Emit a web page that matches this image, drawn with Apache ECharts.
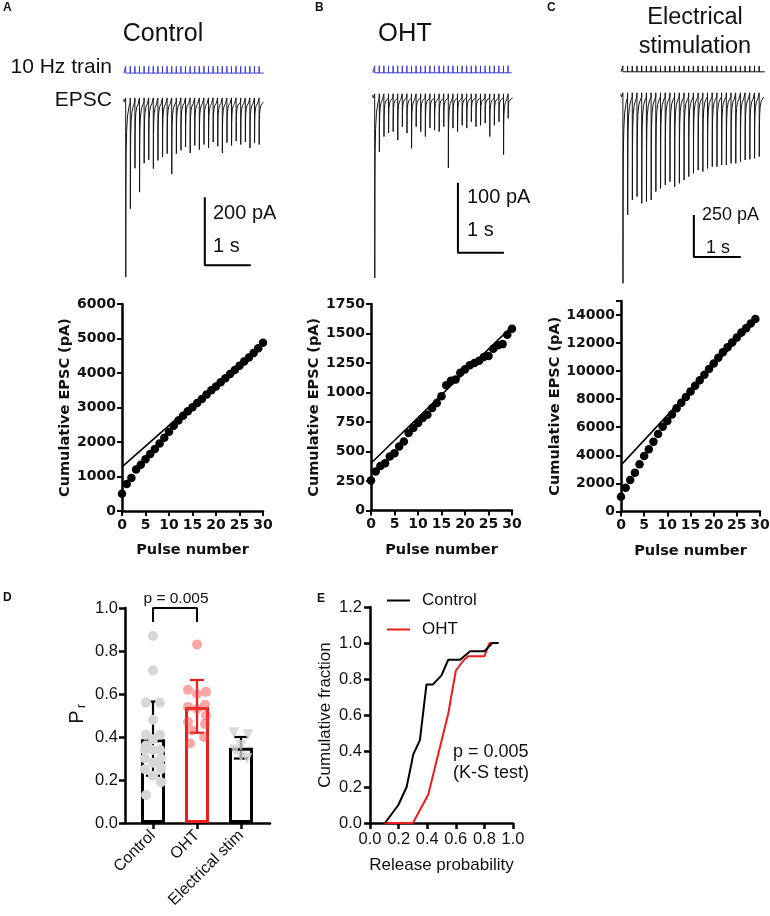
<!DOCTYPE html>
<html><head><meta charset="utf-8">
<script src="https://cdn.jsdelivr.net/npm/echarts@6/dist/echarts.min.js"></script>
<style>html,body{margin:0;padding:0;background:#fff}#c{width:770px;height:916px}</style>
</head><body><div id="c"></div>
<script>
// ---------------- DATA ----------------
// EPSC peak amplitudes (pA) for each of the 30 pulses of the 10 Hz train
const pulseAmpA = [515, 314, 195, 265, 180, 170, 196, 172, 162, 152, 212, 152, 142, 132, 150, 128, 140, 125, 135, 118, 130, 150, 120, 128, 115, 125, 118, 135, 120, 125];
const pulseAmpB = [257, 77, 55, 50, 48, 60, 41, 50, 72, 41, 48, 55, 43, 46, 48, 41, 100, 43, 48, 39, 43, 34, 41, 39, 36, 55, 39, 34, 81, 29];
const pulseAmpC = [1109, 702, 613, 593, 633, 623, 613, 563, 544, 524, 504, 534, 514, 494, 474, 454, 435, 444, 425, 415, 415, 405, 405, 395, 395, 385, 375, 371, 365, 355];
const pulsePeriodMs = 100;            // 10 Hz
const scaleBarPA = [200, 100, 250];   // vertical scale bars (pA)
const scaleBarS = [1, 1, 1];          // horizontal scale bars (s)

// Cumulative EPSC vs pulse number
const pulsesAB = [0,1,2,3,4,5,6,7,8,9,10,11,12,13,14,15,16,17,18,19,20,21,22,23,24,25,26,27,28,29,30];
const pulsesC = [0,1,2,3,4,5,6,7,8,9,10,11,12,13,14,15,16,17,18,19,20,21,22,23,24,25,26,27,28,29];
const cumA = [500, 780, 960, 1200, 1340, 1500, 1650, 1800, 1960, 2120, 2300, 2470, 2620, 2760, 2890, 3010, 3130, 3250, 3380, 3500, 3610, 3730, 3850, 3970, 4090, 4210, 4330, 4450, 4580, 4720, 4880];
const cumB = [255, 330, 378, 400, 457, 486, 543, 585, 656, 699, 741, 784, 812, 869, 912, 969, 1062, 1100, 1111, 1168, 1196, 1230, 1250, 1270, 1300, 1310, 1370, 1400, 1410, 1490, 1540];
const cumC = [1050, 1690, 2240, 2760, 3360, 3950, 4430, 4970, 5520, 6040, 6440, 6900, 7350, 7750, 8150, 8550, 8950, 9350, 9750, 10150, 10550, 10950, 11350, 11700, 12050, 12400, 12750, 13050, 13400, 13720];
const fitA = [[0, 1280], [30, 4880]];
const fitB = [[0, 400], [30, 1560]];
const fitC = [[0, 3300], [29, 13600]];

// Panel D: release probability
const dCategories = ['Control', 'OHT', 'Electrical stim'];
const dMeans = [0.39, 0.54, 0.35];
const dErrLo = [0.22, 0.42, 0.30];
const dErrHi = [0.565, 0.665, 0.40];
const ctrlPr = [0.87, 0.71, 0.56, 0.56, 0.48, 0.41, 0.41, 0.39, 0.36, 0.34, 0.34, 0.34, 0.30, 0.30, 0.28, 0.26, 0.25, 0.25, 0.22, 0.19, 0.13];
const ohtPr = [0.83, 0.62, 0.61, 0.60, 0.55, 0.54, 0.53, 0.50, 0.47, 0.46, 0.43, 0.40, 0.37];
const elecPr = [0.42, 0.41, 0.36, 0.34, 0.31, 0.30];
const dPText = 'p = 0.005';

// Panel E: cumulative distributions
const ecdfCtrl = [[0.105,0],[0.198,0.10],[0.256,0.20],[0.29,0.33],[0.302,0.38],[0.349,0.46],[0.395,0.77],[0.44,0.77],[0.50,0.82],[0.547,0.907],[0.63,0.907],[0.70,0.954],[0.80,0.954],[0.856,1.0],[0.90,1.0]];
const ecdfOht = [[0.10,0],[0.30,0],[0.407,0.157],[0.547,0.607],[0.60,0.846],[0.65,0.90],[0.686,0.926],[0.80,0.926],[0.835,1.0],[0.86,1.0]];

// ---------------- STYLE / LAYOUT ----------------
const FONT = '"Liberation Sans", Arial, Helvetica, sans-serif';
const BFONT = '"DejaVu Sans", "Liberation Sans", sans-serif';
const INK = '#111';
const RED = '#ee1c1c';
const STIM_BLUE = '#3a3ad8';
// jitter of the dots in panel D (pixels)
const ctrlJit = [0, 0, -7, 7, 0, -7, 7, 0, -7, 7, 0, -8, 8, -8, 0, 8, -8, 8, 0, 8, -7];
const ohtJit = [0, -9, 9, 0, 8, -9, 0, 9, -9, 8, -5, 7, -7];
const elecJit = [-7, 7, 0, -6, 0, 6];

// trace panel layout: px per ms / px per pA
const traceCfg = [
  {left: 122, pxMs: 0.046, xMax: 3200, base: 102, pxPA: 0.34, yMin: -540, yMax: 110, t0: 80, lvl: 85, h: 20, tEnd: 3080, sbT: 1800, sbY: -480, color: STIM_BLUE},
  {left: 371, pxMs: 0.046, xMax: 3200, base: 98, pxPA: 0.70, yMin: -270, yMax: 50, t0: 80, lvl: 36, h: 10, tEnd: 3060, sbT: 1890, sbY: -221, color: STIM_BLUE},
  {left: 621, pxMs: 0.047, xMax: 3200, base: 97, pxPA: 0.168, yMin: -1150, yMax: 200, t0: 40, lvl: 150, h: 35, tEnd: 3060, sbT: 1550, sbY: -952, color: '#111'}
];
const pulseAmps = [pulseAmpA, pulseAmpB, pulseAmpC];
const artifactPA = [12, 6, 25];

// EPSC waveform (fraction of peak vs ms after stimulus)
const epscShape = [[2,1],[5,0.5],[10,0.3],[20,0.17],[40,0.08],[70,0.03]];
function buildTrace(amps, t0, period, art) {
  const pts = [[t0 - 45, art * 0.7], [t0 - 35, art * 0.7], [t0 - 30, 0]];
  amps.forEach((a, k) => {
    const t = t0 + k * period;
    pts.push([t - 1, 0], [t, art]);
    epscShape.forEach(([dt, f]) => pts.push([t + dt, -a * f]));
  });
  pts.push([t0 + amps.length * period - 2, 0]);
  return pts;
}
function buildTrain(n, t0, period, tEnd, lvl, h) {
  const pts = [[t0 - 40, lvl]];
  for (let k = 0; k < n; k++) {
    const t = t0 + k * period;
    pts.push([t, lvl], [t, lvl + h], [t, lvl]);
  }
  pts.push([tEnd, lvl]);
  return pts;
}

const grids = [], xAxes = [], yAxes = [], series = [];
const hidden = (gi, min, max) => ({gridIndex: gi, type: 'value', min, max, show: false, splitLine: {show: false}});

traceCfg.forEach((c, i) => {
  grids.push({left: c.left, top: c.base - c.yMax * c.pxPA, width: c.xMax * c.pxMs, height: (c.yMax - c.yMin) * c.pxPA, outerBoundsMode: 'none'});
  xAxes.push(hidden(i, 0, c.xMax));
  yAxes.push(hidden(i, c.yMin, c.yMax));
  series.push({type: 'line', xAxisIndex: i, yAxisIndex: i, data: buildTrace(pulseAmps[i], c.t0, pulsePeriodMs, artifactPA[i]),
    showSymbol: false, symbol: 'none', lineStyle: {color: '#151515', width: 1}, clip: false, z: 3});
  series.push({type: 'line', xAxisIndex: i, yAxisIndex: i, data: buildTrain(pulseAmps[i].length, c.t0, pulsePeriodMs, c.tEnd, c.lvl, c.h),
    showSymbol: false, symbol: 'none', lineStyle: {color: c.color, width: 1}, clip: false, z: 3});
  // scale bar: vertical (pA) + horizontal (s)
  series.push({type: 'line', xAxisIndex: i, yAxisIndex: i,
    data: [[c.sbT, c.sbY + scaleBarPA[i]], [c.sbT, c.sbY], [c.sbT + scaleBarS[i] * 1000, c.sbY]],
    showSymbol: false, symbol: 'none', lineStyle: {color: '#000', width: 2}, clip: false, z: 3});
});

// scatter panels
const scCfg = [
  {left: 122, top: 304, width: 141, height: 207, max: 6000, interval: 1000, nameGap: 46, cum: cumA, x: pulsesAB, fit: fitA},
  {left: 371, top: 304, width: 141, height: 206.5, max: 1750, interval: 250, nameGap: 45, cum: cumB, x: pulsesAB, fit: fitB},
  {left: 621, top: 301, width: 139, height: 210.4, max: 15000, interval: 2000, nameGap: 56, cum: cumC, x: pulsesC, fit: fitC}
];
const axLine = {show: true, onZero: false, lineStyle: {color: '#000', width: 2.5}};
scCfg.forEach((c, j) => {
  const gi = 3 + j;
  grids.push({left: c.left, top: c.top, width: c.width, height: c.height, outerBoundsMode: 'none'});
  xAxes.push({gridIndex: gi, type: 'value', min: 0, max: 30, interval: 5, axisLine: axLine,
    axisTick: {show: true, length: 5, lineStyle: {width: 2, color: '#000'}},
    axisLabel: {color: INK, fontFamily: BFONT, fontWeight: 'bold', fontSize: 14, margin: 7},
    splitLine: {show: false}, name: 'Pulse number', nameLocation: 'middle', nameGap: 32,
    nameTextStyle: {fontFamily: BFONT, fontWeight: 'bold', fontSize: 14.5, color: INK}});
  yAxes.push({gridIndex: gi, type: 'value', min: 0, max: c.max, interval: c.interval, axisLine: axLine,
    axisTick: {show: true, length: 5, lineStyle: {width: 2, color: '#000'}},
    axisLabel: {color: INK, fontFamily: BFONT, fontWeight: 'bold', fontSize: 14, margin: 6,
      formatter: v => (v > c.max - c.interval / 2 && c.max % c.interval !== 0 && v === c.max) ? '' : String(v)},
    splitLine: {show: false}, name: 'Cumulative EPSC (pA)', nameLocation: 'middle', nameGap: c.nameGap,
    nameTextStyle: {fontFamily: BFONT, fontWeight: 'bold', fontSize: 14.5, color: INK}});
  series.push({type: 'line', xAxisIndex: gi, yAxisIndex: gi, data: c.fit, symbol: 'none', showSymbol: false,
    lineStyle: {color: '#000', width: 1.6}, z: 2});
  series.push({type: 'scatter', xAxisIndex: gi, yAxisIndex: gi, data: c.x.map((p, k) => [p, c.cum[k]]),
    symbolSize: 8.5, itemStyle: {color: '#000', opacity: 1}, z: 3});
});

// Panel D: category grid (bars) + frame grid (axes)
grids.push({left: 131, top: 608, width: 132, height: 215, outerBoundsMode: 'none'}); // 6
grids.push({left: 125, top: 608, width: 145, height: 215, outerBoundsMode: 'none'}); // 7
xAxes.push({gridIndex: 6, type: 'category', data: dCategories, boundaryGap: true,
  axisLine: {show: false}, axisTick: {show: true, alignWithLabel: true, length: 6, lineStyle: {width: 2.5, color: '#000'}},
  axisLabel: {rotate: 45, fontFamily: FONT, fontSize: 16, color: INK, margin: 10, interval: 0}, splitLine: {show: false}});
yAxes.push({gridIndex: 6, type: 'value', min: 0, max: 1, show: false, splitLine: {show: false}});
xAxes.push({gridIndex: 7, type: 'value', min: 0, max: 1, axisLine: axLine, axisTick: {show: false}, axisLabel: {show: false}, splitLine: {show: false}});
yAxes.push({gridIndex: 7, type: 'value', min: 0, max: 1, interval: 0.2, axisLine: axLine,
  axisTick: {show: true, length: 6, lineStyle: {width: 2.5, color: '#000'}},
  axisLabel: {fontFamily: FONT, fontSize: 16.5, color: INK, margin: 7, formatter: v => v.toFixed(1)}, splitLine: {show: false}});

const barColors = ['#000', RED, '#000'];
series.push({type: 'bar', xAxisIndex: 6, yAxisIndex: 6, barWidth: 24,
  data: dMeans.map((m, i) => ({value: m, itemStyle: {color: '#fff', borderColor: barColors[i], borderWidth: 3}})), z: 2});
series.push({type: 'custom', xAxisIndex: 6, yAxisIndex: 6, z: 3,
  data: dMeans.map((m, i) => [i, dErrLo[i], dErrHi[i]]),
  renderItem: (params, api) => {
    const x = api.value(0);
    const a = api.coord([x, api.value(1)]), b = api.coord([x, api.value(2)]);
    const w = 7, st = {stroke: barColors[params.dataIndex], lineWidth: 2.2};
    return {type: 'group', children: [
      {type: 'line', shape: {x1: a[0], y1: a[1], x2: b[0], y2: b[1]}, style: st},
      {type: 'line', shape: {x1: a[0] - w, y1: a[1], x2: a[0] + w, y2: a[1]}, style: st},
      {type: 'line', shape: {x1: b[0] - w, y1: b[1], x2: b[0] + w, y2: b[1]}, style: st}
    ]};
  }});
series.push({type: 'scatter', name: 'ctrlDots', xAxisIndex: 6, yAxisIndex: 6, z: 4, symbolSize: 10,
  itemStyle: {color: '#d6d6d6', opacity: 1},
  data: ctrlPr.map((v, k) => ({value: [0, v], symbolOffset: [ctrlJit[k], 0]}))});
series.push({type: 'scatter', name: 'ohtDots', xAxisIndex: 6, yAxisIndex: 6, z: 4, symbolSize: 10,
  itemStyle: {color: 'rgba(240,70,70,0.6)'},
  data: ohtPr.map((v, k) => ({value: [1, v], symbolOffset: [ohtJit[k], 0]}))});
series.push({type: 'scatter', name: 'elecDots', xAxisIndex: 6, yAxisIndex: 6, z: 4, symbol: 'triangle', symbolRotate: 180, symbolSize: 11,
  itemStyle: {color: '#cfcfcf'},
  data: elecPr.map((v, k) => ({value: [2, v], symbolOffset: [elecJit[k], 0]}))});
// significance bracket
series.push({type: 'line', xAxisIndex: 6, yAxisIndex: 6, z: 5, clip: false, symbol: 'none', showSymbol: false,
  data: [[0, 0.935], [0, 1.0], [1, 1.0], [1, 0.935]], lineStyle: {color: '#000', width: 2}});

// Panel E
grids.push({left: 370, top: 607, width: 143, height: 216, outerBoundsMode: 'none'}); // 8
xAxes.push({gridIndex: 8, type: 'value', min: 0, max: 1, interval: 0.2, axisLine: axLine,
  axisTick: {show: true, length: 6, lineStyle: {width: 2.5, color: '#000'}},
  axisLabel: {fontFamily: FONT, fontSize: 16.5, color: INK, margin: 8, formatter: v => v.toFixed(1)}, splitLine: {show: false},
  name: 'Release probability', nameLocation: 'middle', nameGap: 34, nameTextStyle: {fontFamily: FONT, fontSize: 17, color: INK}});
yAxes.push({gridIndex: 8, type: 'value', min: 0, max: 1.2, interval: 0.2, axisLine: axLine,
  axisTick: {show: true, length: 6, lineStyle: {width: 2.5, color: '#000'}},
  axisLabel: {fontFamily: FONT, fontSize: 16.5, color: INK, margin: 8, formatter: v => v.toFixed(1)}, splitLine: {show: false},
  name: 'Cumulative fraction', nameLocation: 'middle', nameGap: 36, nameTextStyle: {fontFamily: FONT, fontSize: 17, color: INK}});
series.push({type: 'line', name: 'OHT', xAxisIndex: 8, yAxisIndex: 8, data: ecdfOht, symbol: 'none', showSymbol: false,
  lineStyle: {color: RED, width: 2}, itemStyle: {color: RED}, z: 3});
series.push({type: 'line', name: 'Control', xAxisIndex: 8, yAxisIndex: 8, data: ecdfCtrl, symbol: 'none', showSymbol: false,
  lineStyle: {color: '#000', width: 2}, itemStyle: {color: '#000'}, z: 4});

function txt(x, y, s, size, extra) {
  return {type: 'text', x, y, z: 10, style: Object.assign({text: s, fontSize: size, fontFamily: FONT, fill: INK, align: 'left', verticalAlign: 'middle'}, extra || {})};
}
const graphics = [
  txt(3, 8, 'A', 12, {fontWeight: 'bold'}), txt(315, 8, 'B', 12, {fontWeight: 'bold'}), txt(547, 8, 'C', 12, {fontWeight: 'bold'}),
  txt(3, 598, 'D', 12, {fontWeight: 'bold'}), txt(317, 599, 'E', 12, {fontWeight: 'bold'}),
  txt(163, 34, 'Control', 25, {align: 'center'}),
  txt(405, 34, 'OHT', 25.5, {align: 'center'}),
  txt(695, 18, 'Electrical', 23.5, {align: 'center'}),
  txt(695, 47, 'stimulation', 23.5, {align: 'center'}),
  txt(112, 67, '10 Hz train', 21, {align: 'right'}),
  txt(112, 100, 'EPSC', 21, {align: 'right'}),
  txt(213, 213, '200 pA', 20), txt(213, 246, '1 s', 20),
  txt(467, 197, '100 pA', 20), txt(467, 230, '1 s', 20),
  txt(702, 215, '250 pA', 18), txt(706, 248, '1 s', 18),
  txt(176, 599, dPText, 15.5, {align: 'center'}),
  txt(77, 717, 'P', 20, {align: 'center'}),
  txt(453, 752, 'p = 0.005', 18), txt(453, 773, '(K-S test)', 18)
];
graphics[18].rotation = Math.PI / 2;
graphics.push({type: 'text', x: 82, y: 706, rotation: Math.PI / 2, z: 10, style: {text: 'r', fontSize: 12, fontFamily: FONT, fill: INK, align: 'center', verticalAlign: 'middle'}});

const chart = echarts.init(document.getElementById('c'), null, {renderer: 'canvas', width: 770, height: 916});
chart.setOption({
  animation: false,
  backgroundColor: '#fff',
  grid: grids, xAxis: xAxes, yAxis: yAxes, series,
  legend: {data: [{name: 'Control', icon: 'rect'}, {name: 'OHT', icon: 'rect'}], left: 387, top: 592, padding: 0, orient: 'vertical',
    itemWidth: 23, itemHeight: 2, itemGap: 12,
    selectedMode: false, textStyle: {fontFamily: FONT, fontSize: 17, color: INK, padding: [0, 0, 0, 7]}},
  graphic: graphics
});
</script></body></html>
